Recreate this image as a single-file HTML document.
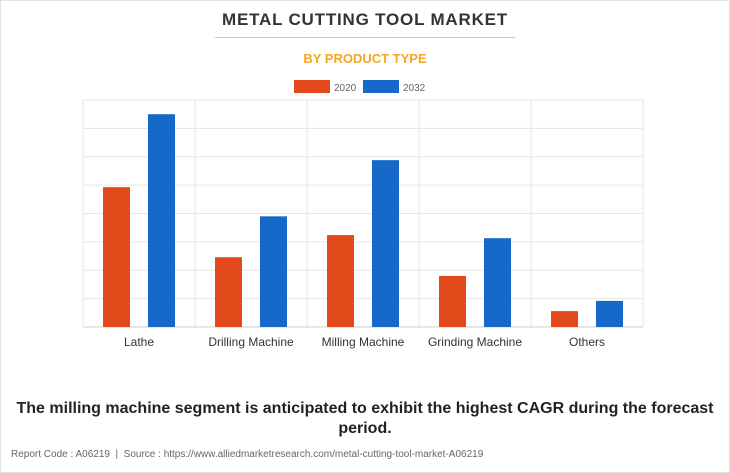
<!DOCTYPE html>
<html><head><meta charset="utf-8"><style>
body{margin:0;width:730px;height:473px;background:#fff;font-family:"Liberation Sans",Arial,sans-serif;overflow:hidden}
#frame{position:absolute;left:0;top:0;width:728px;height:471px;border:1px solid #e3e3e3}
.t{position:absolute;left:0;width:730px;text-align:center}
</style></head><body>
<div id="frame"></div>
<div class="t" style="top:10px;font-size:17px;font-weight:bold;color:#333;letter-spacing:0.8px">METAL CUTTING TOOL MARKET</div>
<div style="position:absolute;left:215px;top:37px;width:300px;height:1px;background:#c8c8c8"></div>
<div class="t" style="top:51px;font-size:13px;font-weight:bold;color:#f5a623">BY PRODUCT TYPE</div>
<svg id="chart" width="730" height="473" style="position:absolute;left:0;top:0"></svg>
<div class="t" style="top:399px;font-size:16px;font-weight:bold;color:#222;line-height:20px;padding:0 10px;box-sizing:border-box">The milling machine segment is anticipated to exhibit the highest CAGR during the forecast period.</div>
<div style="position:absolute;left:11px;top:449px;font-size:10px;color:#666">Report Code : A06219 &nbsp;|&nbsp; Source : https://www.alliedmarketresearch.com/metal-cutting-tool-market-A06219</div>
<script>
const categories=["Lathe","Drilling Machine","Milling Machine","Grinding Machine","Others"];
const series2020=[4.93,2.46,3.24,1.8,0.56];
const series2032=[7.5,3.9,5.88,3.13,0.92];
const seriesNames=["2020","2032"];
const colors=["#e34a1b","#1769c9"];
const yMax=8;
const svg=document.getElementById('chart');const NS='http://www.w3.org/2000/svg';
const L=83,R=643,T=100,B=327;
const cw=(R-L)/categories.length;
const y=v=>B-(v/yMax)*(B-T);
function mk(tag,a){const e=document.createElementNS(NS,tag);for(const k in a)e.setAttribute(k,a[k]);svg.appendChild(e);return e;}
for(let i=0;i<=yMax;i++){const g=mk('line',{x1:L,x2:R,y1:y(i),y2:y(i),stroke:i==0?'#ccc':'#e6e6e6','stroke-width':1});

}
for(let i=0;i<=categories.length;i++){const g=mk('line',{x1:L+i*cw,x2:L+i*cw,y1:T,y2:B,stroke:'#e6e6e6'});

}
[series2020,series2032].forEach((s,si)=>{s.forEach((v,i)=>{const x=L+i*cw+20+si*45;
const r=mk('rect',{x:x,y:y(v),width:27,height:B-y(v),fill:colors[si]});

});});
categories.forEach((c,i)=>{const t=mk('text',{x:L+i*cw+cw/2,y:346,'text-anchor':'middle','font-size':12,fill:'#333'});t.textContent=c;

});
seriesNames.forEach((n,i)=>{const x=294+i*69;
const r=mk('rect',{x:x,y:80,width:36,height:13,fill:colors[i]});


const t=mk('text',{x:x+40,y:91,'font-size':10,fill:'#666'});t.textContent=n;

});
</script>
</body></html>
